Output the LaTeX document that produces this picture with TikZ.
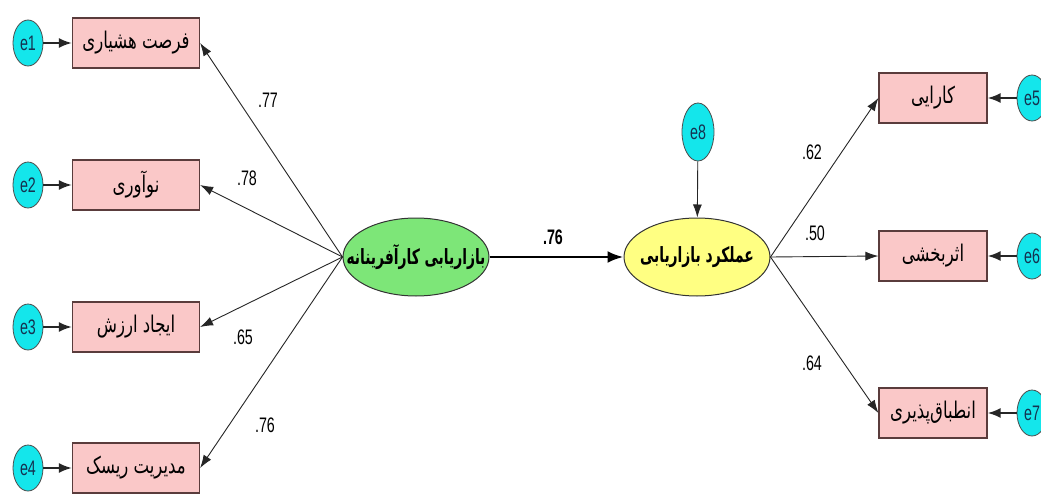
\documentclass[tikz,border=0pt]{standalone}
\usepackage{fontspec}
\usetikzlibrary{arrows.meta,shapes.geometric}
\TeXXeTstate=1
\newfontfamily\fa[Script=Arabic,FakeStretch=0.72]{DejaVu Sans}
\newfontfamily\fan[Script=Arabic,FakeStretch=0.66]{DejaVu Sans}
\newfontfamily\nar[FakeStretch=0.68]{Liberation Sans}
\definecolor{boxpink}{RGB}{250,200,200}
\definecolor{boxline}{RGB}{90,60,60}
\definecolor{errcyan}{RGB}{20,230,235}
\definecolor{errtext}{RGB}{20,50,80}
\definecolor{latgreen}{RGB}{125,230,120}
\definecolor{latyellow}{RGB}{255,255,130}
\tikzset{
  obs/.style={draw=boxline, fill=boxpink, line width=1.2pt, minimum height=50pt, inner sep=0pt,
    font=\fa\fontsize{23}{25}\selectfont},
  obsl/.style={obs, minimum width=127pt},
  obsr/.style={obs, minimum width=108pt},
  err/.style={ellipse, draw=black!70, fill=errcyan, line width=0.8pt, minimum width=30pt, minimum height=46pt,
    inner sep=0pt, text=errtext, font=\nar\fontsize{21}{22}\selectfont},
  lat/.style={ellipse, draw=black!80, line width=1pt, minimum width=146pt, minimum height=78pt, inner sep=0pt,
    label={[font=\fan\bfseries\fontsize{21}{23}\selectfont]center:#1}},
  lab/.style={font=\nar\fontsize{21}{22}\selectfont},
  path/.style={draw=black!85, line width=0.9pt, -{Latex[length=13pt,width=9pt]}},
  errarr/.style={draw=black!85, line width=2pt, -{Latex[length=13pt,width=10pt]}},
}
\begin{document}
\begin{tikzpicture}[x=1pt,y=-1pt]
\useasboundingbox[fill=white] (0,0) rectangle (1041,495);
% left indicators
\node[obsl] (b1) at (136,43) {\beginR فرصت هشیاری\endR};
\node[obsl] (b2) at (136,185) {\beginR نوآوری\endR};
\node[obsl] (b3) at (136,327) {\beginR ایجاد ارزش\endR};
\node[obsl] (b4) at (136,468) {\beginR مدیریت ریسک\endR};
\node[err] (e1) at (28,43) {e1};
\node[err] (e2) at (28,185) {e2};
\node[err] (e3) at (28,327) {e3};
\node[err] (e4) at (28,468) {e4};
% latents
\node[lat={\beginR بازاریابی کارآفرینانه\endR}, fill=latgreen] (g) at (416,257) {};
\node[lat={\beginR عملکرد بازاریابی\endR}, fill=latyellow] (m) at (697,257) {};
\node[err, minimum width=32pt, minimum height=58pt] (e8) at (698,132) {e8};
% right indicators
\node[obsr] (b5) at (933,98) {\beginR کارایی\endR};
\node[obsr] (b6) at (933,256) {\beginR اثربخشی\endR};
\node[obsr] (b7) at (933,413) {\beginR انطباق‌پذیری\endR};
\node[err] (e5) at (1032,98) {e5};
\node[err] (e6) at (1032,256) {e6};
\node[err] (e7) at (1032,413) {e7};
% error arrows
\foreach \e/\b in {e1/b1,e2/b2,e3/b3,e4/b4,e5/b5,e6/b6,e7/b7}
  \draw[errarr] (\e) -- (\b);
\draw[path] (e8) -- (m);
% loadings
\draw[path] (g.west) -- (b1.east);
\draw[path] (g.west) -- (b2.east);
\draw[path] (g.west) -- (b3.east);
\draw[path] (g.west) -- (b4.east);
\draw[path] (m.east) -- (b5.west);
\draw[path] (m.east) -- (b6.west);
\draw[path] (m.east) -- (b7.west);
\draw[draw=black, line width=2.8pt, -{Latex[length=16pt,width=12pt]}] (g) -- (m);
% labels
\node[lab] (l1) at (268,100) {.77};
\node[lab] (l2) at (247,178) {.78};
\node[lab] (l3) at (243,337) {.65};
\node[lab] (l4) at (265,425) {.76};
\node[lab, font=\nar\bfseries\fontsize{21}{22}\selectfont] (l0) at (553,237) {.76};
\node[lab] (l5) at (812,152) {.62};
\node[lab] (l6) at (815,233) {.50};
\node[lab] (l7) at (812,363) {.64};
\end{tikzpicture}
\end{document}
